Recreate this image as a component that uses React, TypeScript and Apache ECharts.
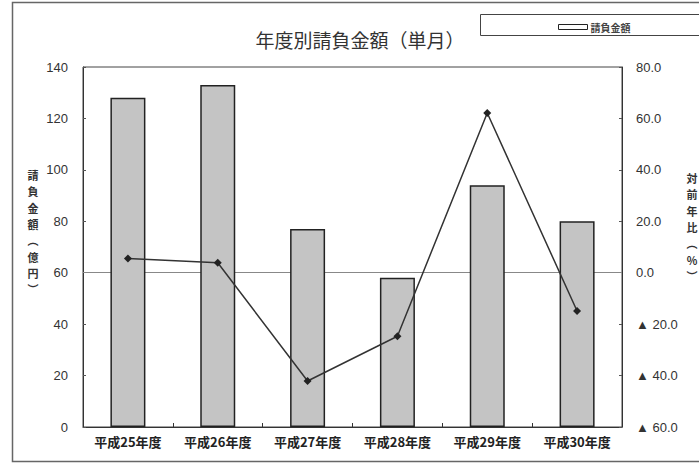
import React, { useEffect, useRef } from "react";
import * as echarts from "echarts";

const categories = ["平成25年度", "平成26年度", "平成27年度", "平成28年度", "平成29年度", "平成30年度"];
const amounts = [128, 133, 77, 58, 94, 80];
const yoy = [5.5, 3.9, -42.1, -24.7, 62.1, -14.9];
const leftTicks = { min: 0, max: 140, interval: 20 };
const rightTicks = { min: -60, max: 80, interval: 20 };
const titleText = "年度別請負金額（単月）";
const legendName = "請負金額";
const leftName = ["請", "負", "金", "額", "︵", "億", "円", "︶"];
const rightName = ["対", "前", "年", "比", "︵", "%", "︶"];

export default function App() {
  const ref = useRef<HTMLDivElement>(null);
  useEffect(() => {
    const chart = echarts.init(ref.current!, undefined, { renderer: "svg" });
    const num = "'Liberation Sans', Arial, sans-serif";
    const cjk = "'Noto Sans CJK JP', sans-serif";
    const vertical = (chars: string[], x: number, y0: number) =>
      chars.map((c, i) => ({
        type: "text",
        x,
        y: y0 + i * 16.3,
        style: {
          text: c,
          font: "bold 11px 'Noto Sans CJK JP', sans-serif",
          fill: "#333",
          align: "center",
          verticalAlign: "middle",
        },
      }));
    chart.setOption({
      animation: false,
      backgroundColor: "#fff",
      title: {
        text: titleText,
        left: 355,
        top: 25,
        textAlign: "center",
        textStyle: { fontFamily: cjk, fontSize: 19, fontWeight: "normal", color: "#333" },
      },
      legend: {
        show: true,
        left: 553,
        top: 17,
        itemWidth: 29,
        itemHeight: 5,
        itemGap: 4,
        data: [{ name: legendName, icon: "rect", itemStyle: { color: "#fff", borderColor: "#222", borderWidth: 1 } }],
        textStyle: { fontFamily: cjk, fontSize: 10, fontWeight: "bold", color: "#444", padding: [0, 0, 0, -2] },
      },
      grid: {
        left: 83,
        right: 77,
        top: 67,
        bottom: 38,
        show: true,
        borderColor: "#444",
        borderWidth: 1,
      },
      xAxis: {
        type: "category",
        data: categories,
        axisLine: { lineStyle: { color: "#333", width: 1 } },
        axisTick: { show: true, inside: true, length: 4, lineStyle: { color: "#333" } },
        axisLabel: { fontFamily: cjk, fontSize: 13, fontWeight: "bold", color: "#222", margin: 8 },
      },
      yAxis: [
        {
          type: "value",
          min: leftTicks.min,
          max: leftTicks.max,
          interval: leftTicks.interval,
          axisLine: { show: true, lineStyle: { color: "#333" } },
          axisTick: { show: true, inside: true, length: 3, lineStyle: { color: "#555" } },
          splitLine: { show: false },
          axisLabel: { fontFamily: num, fontSize: 13, color: "#333", margin: 15 },
        },
        {
          type: "value",
          min: rightTicks.min,
          max: rightTicks.max,
          interval: rightTicks.interval,
          position: "right",
          axisLine: { show: true, lineStyle: { color: "#333" } },
          axisTick: { show: true, inside: true, length: 3, lineStyle: { color: "#555" } },
          splitLine: { show: false },
          axisLabel: {
            fontFamily: num,
            fontSize: 13,
            color: "#333",
            margin: 14,
            formatter: (v: number) => (v < 0 ? "▲ " + Math.abs(v).toFixed(1) : v.toFixed(1)),
          },
        },
      ],
      series: [
        {
          name: legendName,
          type: "bar",
          data: amounts,
          barWidth: 35,
          itemStyle: { color: "#c4c4c4", borderColor: "#222", borderWidth: 1.5 },
          z: 2,
        },
        {
          name: "対前年比",
          type: "line",
          yAxisIndex: 1,
          data: yoy,
          symbol: "diamond",
          symbolSize: 8,
          itemStyle: { color: "#222" },
          lineStyle: { color: "#333", width: 1.5 },
          z: 4,
          markLine: {
            silent: true,
            symbol: "none",
            label: { show: false },
            lineStyle: { color: "#888", width: 1, type: "solid" },
            data: [{ yAxis: 0 }],
            z: 1,
          },
        },
      ],
      graphic: [
        {
          type: "rect",
          shape: { x: 12.5, y: 2.5, width: 700, height: 459 },
          style: { fill: "none", stroke: "#666", lineWidth: 1.5 },
          silent: true,
        },
        {
          type: "rect",
          shape: { x: 480.5, y: 14.5, width: 230, height: 21 },
          style: { fill: "none", stroke: "#444", lineWidth: 1 },
          silent: true,
        },
        ...vertical(leftName, 33, 175),
        ...vertical(rightName, 692, 178),
      ],
    });
    return () => chart.dispose();
  }, []);
  return (
    <div
      ref={ref}
      style={{ position: "fixed", left: 0, top: 0, width: 699, height: 465 }}
    />
  );
}
